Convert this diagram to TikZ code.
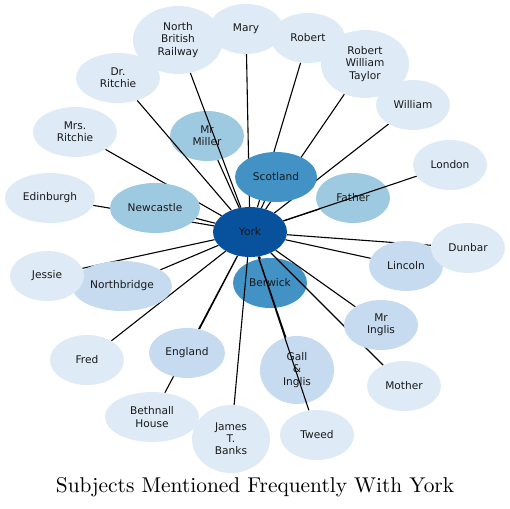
\documentclass[tikz,border=0pt]{standalone}
\usepackage{fontspec}
\usepackage{tikz}
\usetikzlibrary{shapes.geometric}
\newfontfamily\dejavu{DejaVu Sans}
\definecolor{bluesA}{HTML}{08519C}
\definecolor{bluesB}{HTML}{4292C6}
\definecolor{bluesC}{HTML}{9ECAE1}
\definecolor{bluesD}{HTML}{C6DBEF}
\definecolor{bluesE}{HTML}{DEEBF7}
\pgfdeclarelayer{under}
\pgfdeclarelayer{edges}
\pgfsetlayers{under,edges,main}

\begin{document}
\begin{tikzpicture}[x=1pt,y=-1pt,line cap=round,
  subj/.style={ellipse,inner sep=0pt,align=center,text=black!90,
    font=\dejavu\fontsize{10.6}{12.2}\selectfont,
    minimum width=74pt,minimum height=50pt},
  tall/.style={minimum height=68pt},
  hub/.style={subj,fill=bluesA},
  lvB/.style={subj,fill=bluesB},
  lvC/.style={subj,fill=bluesC},
  lvD/.style={subj,fill=bluesD},
  lvE/.style={subj,fill=bluesE},
  link/.style={black,line width=1.1pt}]
\useasboundingbox (0,0) rectangle (510,508);
% nodes that the links run over
\begin{pgfonlayer}{under}
\node[lvC] (mrmiller) at (207,136) {Mr\\Miller};
\node[lvC] (father) at (353,198) {Father};
\node[lvB] (berwick) at (270,283) {Berwick};
\node[lvD,tall] (gall) at (297,370) {Gall\\\&\\Inglis};
\end{pgfonlayer}
% all other nodes
\node[hub] (york) at (250,232) {York};
\node[lvB,minimum width=82pt] (scotland) at (276,177) {Scotland};
\node[lvC,minimum width=90pt] (newcastle) at (155,208) {Newcastle};
\node[lvD,minimum width=100pt] (northbridge) at (122,286) {Northbridge};
\node[lvD,minimum width=76pt] (england) at (187,353) {England};
\node[lvD] (lincoln) at (406,266) {Lincoln};
\node[lvD] (mringlis) at (381,325) {Mr\\Inglis};
\node[lvE] (mary) at (246,29) {Mary};
\node[lvE,tall,minimum width=90pt] (nbr) at (178,40) {North\\British\\Railway};
\node[lvE,minimum width=84pt] (drritchie) at (118,78) {Dr.\\Ritchie};
\node[lvE,minimum width=84pt] (mrsritchie) at (75,132) {Mrs.\\Ritchie};
\node[lvE,minimum width=90pt] (edinburgh) at (50,198) {Edinburgh};
\node[lvE] (jessie) at (47,276) {Jessie};
\node[lvE] (fred) at (87,360) {Fred};
\node[lvE,minimum width=94pt] (bethnall) at (152,417) {Bethnall\\House};
\node[lvE,tall,minimum width=78pt] (banks) at (231,439) {James\\T.\\Banks};
\node[lvE] (tweed) at (317,435) {Tweed};
\node[lvE] (mother) at (404,386) {Mother};
\node[lvE] (dunbar) at (468,248) {Dunbar};
\node[lvE] (london) at (450,165) {London};
\node[lvE] (william) at (413,105) {William};
\node[lvE,tall,minimum width=88pt] (rwt) at (365,64) {Robert\\William\\Taylor};
\node[lvE] (robert) at (308,38) {Robert};
% links
\begin{pgfonlayer}{edges}
\draw[link] (york) -- (mary) (york) -- (robert) (york) -- (rwt) (york) -- (william)
  (york) -- (london) (york) -- (dunbar) (york) -- (lincoln) (york) -- (mringlis);
\draw[link] (york) -- (mother) (york) -- (tweed) (york) -- (gall) (york) -- (berwick)
  (york) -- (banks) (york) -- (england) (york) -- (bethnall) (york) -- (fred);
\draw[link] (york) -- (northbridge) (york) -- (jessie) (york) -- (edinburgh)
  (york) -- (newcastle) (york) -- (mrsritchie) (york) -- (drritchie);
\draw[link] (york) -- (nbr) (york) -- (mrmiller) (york) -- (scotland) (york) -- (father);
\end{pgfonlayer}
\node[scale=2.14] (title) at (255,487) {Subjects Mentioned Frequently With York};
\end{tikzpicture}
\end{document}
